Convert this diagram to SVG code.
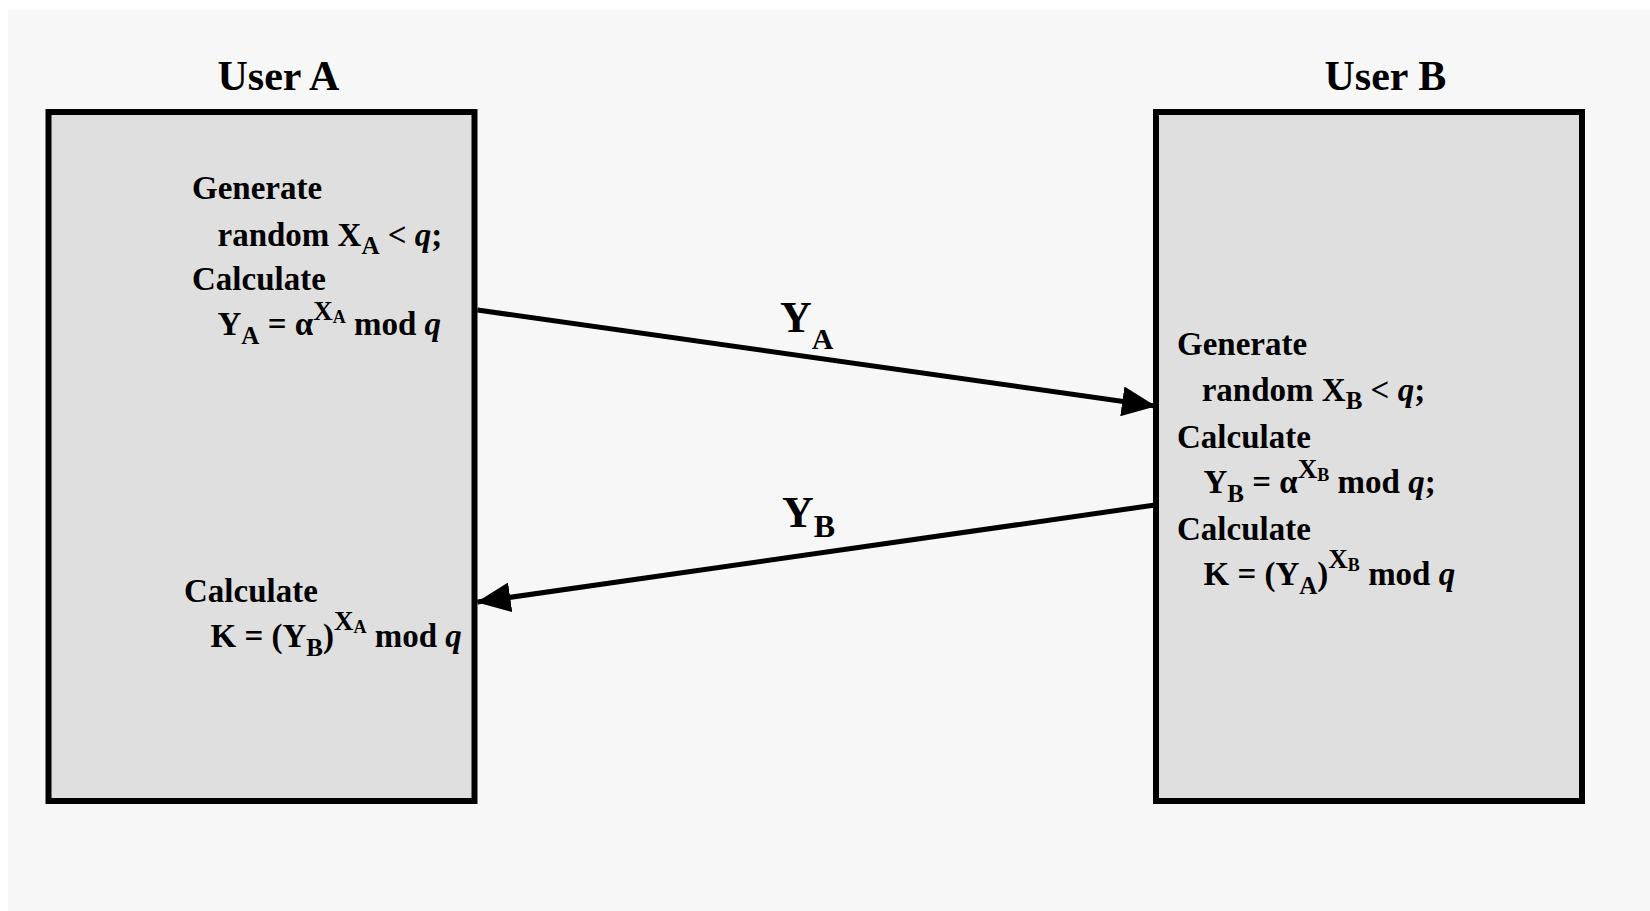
<svg xmlns="http://www.w3.org/2000/svg" width="1650" height="911" viewBox="0 0 1650 911">
<style>
.t{font-family:"Liberation Serif","Times New Roman",serif;font-weight:bold;fill:#000}
.b{font-size:33px}
.ttl{font-size:42px}
.lbl{font-size:44px}
.box{fill:#dfdfdf;stroke:#000;stroke-width:6}
.ln{stroke:#000;stroke-width:5;fill:none}
.it{font-style:italic}
</style>
<defs>
<marker id="ah" viewBox="0 0 34 30" markerWidth="34" markerHeight="30" refX="33" refY="15" orient="auto" markerUnits="userSpaceOnUse">
<path d="M0,0 L34,15 L0,30 z" fill="#000"/>
</marker>
</defs>
<rect x="0" y="0" width="1650" height="911" fill="#ffffff"/>
<rect x="8" y="10" width="1642" height="901" fill="#f7f7f7"/>

<g id="userA">
<rect class="box" x="48.5" y="112" width="426" height="689"/>
<text class="t ttl" x="217.5" y="90">User A</text>
<text class="t b" x="192" y="199">Generate</text>
<text class="t b" x="217.5" y="246">random X<tspan font-size="25" dy="8">A</tspan><tspan dy="-8"> &lt; </tspan><tspan class="it">q</tspan>;</text>
<text class="t b" x="192" y="290">Calculate</text>
<text class="t b" x="217.5" y="335">Y<tspan font-size="25" dy="9">A</tspan><tspan dy="-9"> = α</tspan><tspan font-size="27" dy="-15">X</tspan><tspan font-size="18" dy="3">A</tspan><tspan dy="12"> mod </tspan><tspan class="it">q</tspan></text>
<text class="t b" x="184" y="602">Calculate</text>
<text class="t b" x="210.5" y="647">K = (Y<tspan font-size="25" dy="9">B</tspan><tspan dy="-9">)</tspan><tspan font-size="27" dy="-17">X</tspan><tspan font-size="18" dy="3">A</tspan><tspan dy="14"> mod </tspan><tspan class="it">q</tspan></text>
</g>

<g id="userB">
<rect class="box" x="1156" y="112" width="426" height="689"/>
<text class="t ttl" x="1324.5" y="90">User B</text>
<text class="t b" x="1177" y="355">Generate</text>
<text class="t b" x="1201.7" y="401">random X<tspan font-size="25" dy="8">B</tspan><tspan dy="-8"> &lt; </tspan><tspan class="it">q</tspan>;</text>
<text class="t b" x="1177" y="448">Calculate</text>
<text class="t b" x="1203.5" y="493">Y<tspan font-size="25" dy="9">B</tspan><tspan dy="-9"> = α</tspan><tspan font-size="27" dy="-15">X</tspan><tspan font-size="18" dy="3">B</tspan><tspan dy="12"> mod </tspan><tspan class="it">q</tspan>;</text>
<text class="t b" x="1177" y="540">Calculate</text>
<text class="t b" x="1203.5" y="585">K = (Y<tspan font-size="25" dy="9">A</tspan><tspan dy="-9">)</tspan><tspan font-size="27" dy="-17">X</tspan><tspan font-size="18" dy="3">B</tspan><tspan dy="14"> mod </tspan><tspan class="it">q</tspan></text>
</g>

<g id="connectors">
<line class="ln" x1="477.5" y1="310" x2="1155" y2="406" marker-end="url(#ah)"/>
<text class="t lbl" x="780" y="332">Y<tspan font-size="30" dy="17">A</tspan></text>
<line class="ln" x1="1155" y1="505" x2="477.5" y2="602" marker-end="url(#ah)"/>
<text class="t lbl" x="782" y="527">Y<tspan font-size="32" dy="10">B</tspan></text>
</g>
</svg>
